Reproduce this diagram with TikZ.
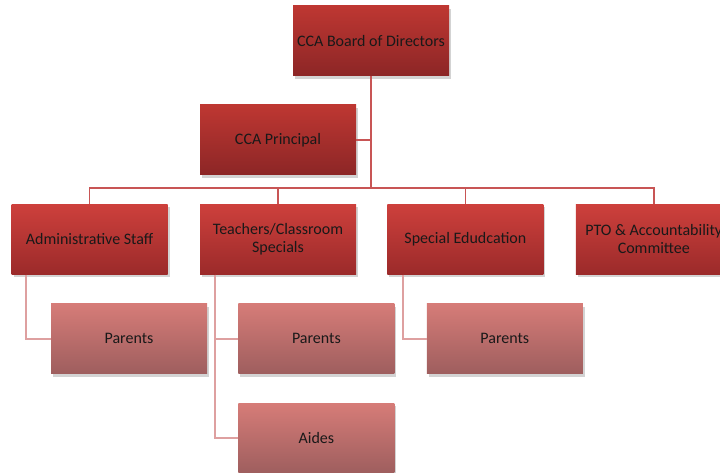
\documentclass[tikz,border=0pt]{standalone}
\usepackage{fontspec}
\setmainfont{Carlito}
\usepackage{tikz}
\usetikzlibrary{positioning,shadows}

\definecolor{boardtop}{RGB}{190,55,50}
\definecolor{boardbot}{RGB}{140,38,38}
\definecolor{unittop}{RGB}{205,64,60}
\definecolor{unitbot}{RGB}{155,42,42}
\definecolor{subtop}{RGB}{214,124,120}
\definecolor{subbot}{RGB}{158,94,94}
\definecolor{linkred}{RGB}{200,85,85}
\definecolor{linkpink}{RGB}{222,160,160}

\begin{document}
\begin{tikzpicture}[%
  x=1pt,
  y=1pt,
  node distance=29pt and 32pt,
  box/.style={
    rectangle,
    minimum width=156pt,
    minimum height=70pt,
    align=center,
    font=\fontsize{16}{18}\selectfont,
    text=black!90,
    drop shadow={opacity=0.35,shadow xshift=2pt,shadow yshift=-3pt}},
  boardbox/.style={box,top color=boardtop,bottom color=boardbot},
  unitbox/.style={box,top color=unittop,bottom color=unitbot},
  subbox/.style={box,top color=subtop,bottom color=subbot},
  link/.style={draw=linkred,line width=1.6pt},
  sublink/.style={draw=linkpink,line width=2pt}
  ]
  \clip (0,0) rectangle (720,-473);
  %% Nodes
  \node[boardbox] (board) at (371,-41) {CCA Board of Directors};
  \node[boardbox] (principal) at (278,-140) {CCA Principal};
  \node[unitbox, below = 29pt of principal] (teach) {Teachers/Classroom\\Specials};
  \node[unitbox, left = 32pt of teach] (admin) {Administrative Staff};
  \node[unitbox, right = 31pt of teach] (sped) {Special Edudcation};
  \node[unitbox, right = 32pt of sped] (pto) {PTO \& Accountability\\Committee};
  \node[subbox, below right = 29pt and -117pt of admin] (par1) {Parents};
  \node[subbox, below right = 29pt and -118pt of teach] (par2) {Parents};
  \node[subbox, below = 29pt of par2] (aides) {Aides};
  \node[subbox, below right = 29pt and -117pt of sped] (par3) {Parents};
  \coordinate (bus) at (0,-188);
  %% Edges
  \draw[sublink] ([xshift=15pt]admin.south west) |- (par1.west);
  \draw[sublink] ([xshift=15pt]teach.south west) |- (par2.west);
  \draw[sublink] ([xshift=15pt]teach.south west) |- (aides.west);
  \draw[sublink] ([xshift=16pt]sped.south west) |- (par3.west);
  \draw[link] (principal.east) -- (principal.east -| board.south);
  \draw[link] (board.south) -- (board.south |- bus) -| (admin.north);
  \draw[link] (board.south |- bus) -| (teach.north);
  \draw[link] (board.south |- bus) -| (sped.north);
  \draw[link] (board.south |- bus) -| (pto.north);
\end{tikzpicture}
\end{document}
